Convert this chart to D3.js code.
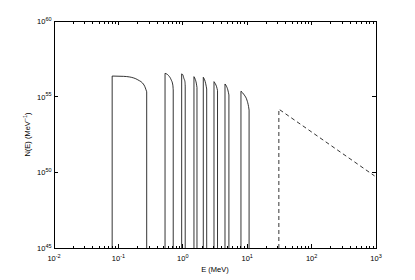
<!DOCTYPE html>
<html>
<head>
<meta charset="utf-8">
<script src="https://cdn.jsdelivr.net/npm/d3@7"></script>
<style>
  body { margin: 0; background: #fff; }
  text { font-family: 'Liberation Sans', Arial, sans-serif; fill: #000; }
</style>
</head>
<body>
<div id="container"></div>
<script>
// line spectra: energy (MeV) and N(E) along the top of each band
var bandE = [
  [0.080, 0.12, 0.15, 0.20, 0.25, 0.275],
  [0.53, 0.60, 0.66, 0.70, 0.71],
  [0.96, 1.00, 1.04, 1.08, 1.09],
  [1.49, 1.56, 1.62, 1.66],
  [2.08, 2.18, 2.27, 2.35],
  [3.05, 3.20, 3.35, 3.46],
  [4.52, 4.75, 5.00, 5.20],
  [8.0, 9.0, 9.9, 10.5, 10.7]
];
var bandN = [
  [2.3e56, 2.2e56, 2.0e56, 1.3e56, 5.9e55, 2.1e55],
  [3.5e56, 2.5e56, 1.3e56, 5.9e55, 2.8e55],
  [3.2e56, 2.8e56, 1.6e56, 9.8e55, 5.0e55],
  [2.1e56, 1.4e56, 7.9e55, 4.0e55],
  [1.9e56, 1.3e56, 7.1e55, 3.2e55],
  [9.8e55, 7.1e55, 4.5e55, 2.5e55],
  [6.9e55, 5.0e55, 2.8e55, 1.3e55],
  [2.3e55, 1.3e55, 6.0e54, 2.2e54, 1.3e54]
];
// continuum (dashed)
var tailE = [31, 31, 950];
var tailN = [1e45, 1.5e54, 5.8e49];

var xTicks = [1e-2, 1e-1, 1e0, 1e1, 1e2, 1e3];
var xTickExp = ['-2', '-1', '0', '1', '2', '3'];
var yTicks = [1e45, 1e50, 1e55, 1e60];
var yTickExp = ['45', '50', '55', '60'];

var margin = {top: 21, right: 39, bottom: 32, left: 54};
var width = 415 - margin.left - margin.right;
var height = 280 - margin.top - margin.bottom;

var svg = d3.select('#container').append('svg')
  .attr('width', 415)
  .attr('height', 280);

var g = svg.append('g')
  .attr('transform', 'translate(' + margin.left + ',' + margin.top + ')');

var x = d3.scaleLog().domain([1e-2, 1e3]).range([0, width]);
var y = d3.scaleLog().domain([1e45, 1e60]).range([height, 0]);

var topLine = d3.line()
  .x(function(d) { return x(d[0]); })
  .y(function(d) { return y(d[1]); })
  .curve(d3.curveMonotoneX);

var line = d3.line()
  .x(function(d) { return x(d[0]); })
  .y(function(d) { return y(d[1]); });

// each band: up from the floor, along the top, back down
bandE.forEach(function(es, i) {
  var pts = es.map(function(e, j) { return [e, bandN[i][j]]; });
  var last = pts[pts.length - 1];
  var d = 'M' + x(es[0]) + ',' + y(1e45) + 'L' + x(es[0]) + ',' + y(pts[0][1]) +
    topLine(pts).replace(/^M[^CL]*/, '') +
    'L' + x(last[0]) + ',' + y(1e45);
  g.append('path')
    .attr('d', d)
    .attr('fill', 'none')
    .attr('stroke', '#000')
    .attr('stroke-width', 0.8);
});

g.append('path')
  .attr('d', line(tailE.map(function(e, i) { return [e, tailN[i]]; })))
  .attr('fill', 'none')
  .attr('stroke', '#000')
  .attr('stroke-width', 0.8)
  .attr('stroke-dasharray', '4,3');

// minor x ticks
var minor = [];
for (var k = 0; k < xTicks.length - 1; k++) {
  for (var m = 2; m <= 9; m++) minor.push(xTicks[k] * m);
}

var axes = g.append('g').attr('stroke', '#000').attr('shape-rendering', 'crispEdges');

axes.selectAll('.xminor')
  .data(minor)
  .enter().append('line')
    .attr('x1', function(d) { return x(d); })
    .attr('x2', function(d) { return x(d); })
    .attr('y1', height).attr('y2', height - 2.5);
axes.selectAll('.xminorTop')
  .data(minor)
  .enter().append('line')
    .attr('x1', function(d) { return x(d); })
    .attr('x2', function(d) { return x(d); })
    .attr('y1', 0).attr('y2', 2.5);
axes.selectAll('.xmajor')
  .data(xTicks)
  .enter().append('line')
    .attr('x1', function(d) { return x(d); })
    .attr('x2', function(d) { return x(d); })
    .attr('y1', height).attr('y2', height - 4);
axes.selectAll('.xmajorTop')
  .data(xTicks)
  .enter().append('line')
    .attr('x1', function(d) { return x(d); })
    .attr('x2', function(d) { return x(d); })
    .attr('y1', 0).attr('y2', 4);
axes.selectAll('.ymajor')
  .data(yTicks)
  .enter().append('line')
    .attr('x1', 0).attr('x2', 4)
    .attr('y1', function(d) { return y(d); })
    .attr('y2', function(d) { return y(d); });
axes.selectAll('.ymajorRight')
  .data(yTicks)
  .enter().append('line')
    .attr('x1', width).attr('x2', width - 4)
    .attr('y1', function(d) { return y(d); })
    .attr('y2', function(d) { return y(d); });

axes.append('rect')
  .attr('width', width)
  .attr('height', height)
  .attr('fill', 'none')
  .attr('stroke-width', 1);

// tick labels
g.selectAll('.xlab')
  .data(xTicks)
  .enter().append('text')
    .attr('x', function(d) { return x(d); })
    .attr('y', height + 13)
    .attr('text-anchor', 'middle')
    .style('font-size', '7.5px')
    .each(function(d, i) {
      var t = d3.select(this);
      t.append('tspan').text('10');
      t.append('tspan').attr('dy', -3.5).style('font-size', '5.5px').text(xTickExp[i]);
    });

g.selectAll('.ylab')
  .data(yTicks)
  .enter().append('text')
    .attr('x', -2.5)
    .attr('y', function(d) { return y(d) + 3; })
    .attr('text-anchor', 'end')
    .style('font-size', '7.5px')
    .each(function(d, i) {
      var t = d3.select(this);
      t.append('tspan').text('10');
      t.append('tspan').attr('dy', -3.5).style('font-size', '5.5px').text(yTickExp[i]);
    });

// axis titles
g.append('text')
  .attr('x', width / 2)
  .attr('y', height + 24)
  .attr('text-anchor', 'middle')
  .style('font-size', '7.5px')
  .text('E (MeV)');

var yt = g.append('text')
  .attr('transform', 'translate(-24,' + (height / 2) + ') rotate(-90)')
  .attr('text-anchor', 'middle')
  .style('font-size', '7.5px');
yt.append('tspan').text('N(E) (MeV');
yt.append('tspan').attr('dy', -3).style('font-size', '5.5px').text('\u22121');
yt.append('tspan').attr('dy', 3).text(')');
</script>
</body>
</html>
